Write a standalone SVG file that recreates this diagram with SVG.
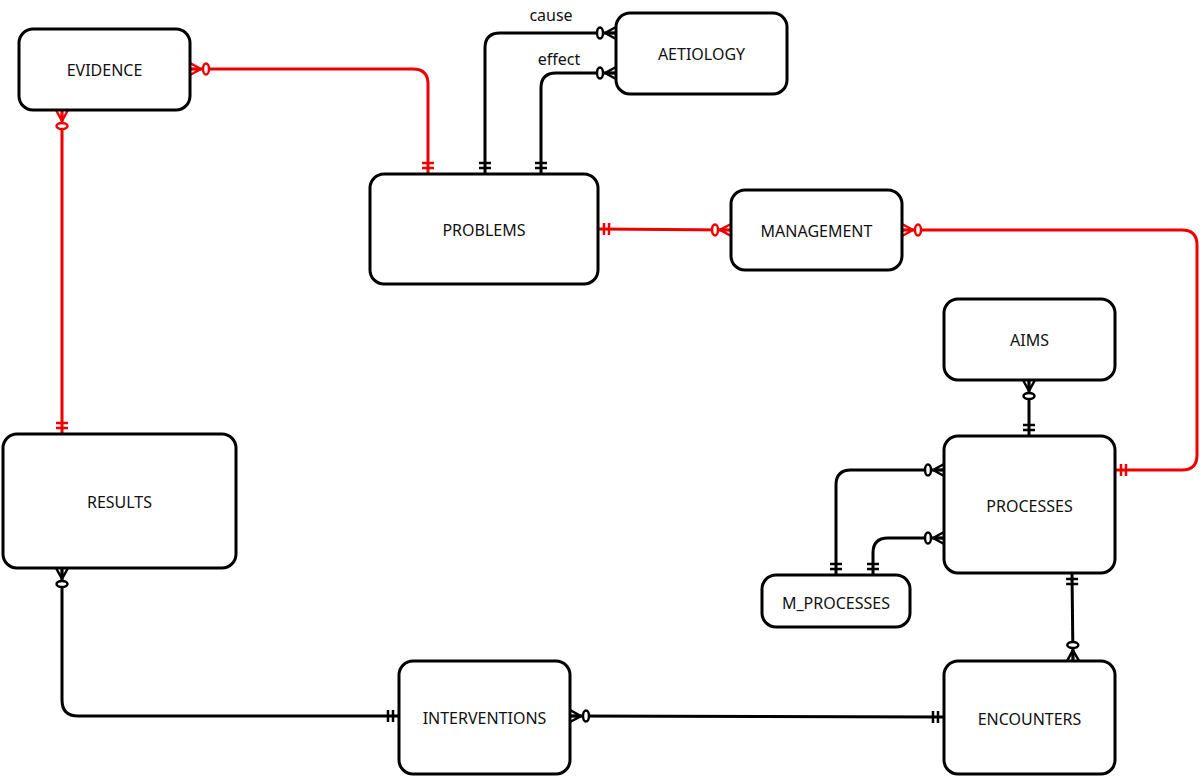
<svg xmlns="http://www.w3.org/2000/svg" width="1200" height="778" viewBox="0 0 1200 778">
<style>
.n{fill:#fff;stroke:#000;stroke-width:3}
.t{font-family:"Noto Sans","Open Sans",sans-serif;font-size:16px;text-anchor:middle;dominant-baseline:central;fill:#111}
.k{fill:none;stroke:#000;stroke-width:3}
.r{fill:none;stroke:#e00;stroke-width:3}
.k.m1{marker-start:url(#manyK);marker-end:url(#oneK)}
.k.m2{marker-start:url(#oneK);marker-end:url(#manyK)}
.r.m1{marker-start:url(#manyR);marker-end:url(#oneR)}
.r.m2{marker-start:url(#oneR);marker-end:url(#manyR)}
</style>
<defs>
<marker id="manyK" viewBox="-25 -10 30 20" refX="0" refY="0" markerWidth="30" markerHeight="20" markerUnits="userSpaceOnUse" orient="auto-start-reverse" overflow="visible"><path d="M-11,0 L0,-6 M-11,0 L0,6 M-11,0 H0" fill="none" stroke="#000" stroke-width="2.5"/><ellipse cx="-16" cy="0" rx="3" ry="5.5" fill="#fff" stroke="#000" stroke-width="2.5"/></marker>
<marker id="oneK" viewBox="-25 -10 30 20" refX="0" refY="0" markerWidth="30" markerHeight="20" markerUnits="userSpaceOnUse" orient="auto-start-reverse" overflow="visible"><path d="M-6,-6 V6 M-11,-6 V6" fill="none" stroke="#000" stroke-width="2.5"/></marker>
<marker id="manyR" viewBox="-25 -10 30 20" refX="0" refY="0" markerWidth="30" markerHeight="20" markerUnits="userSpaceOnUse" orient="auto-start-reverse" overflow="visible"><path d="M-11,0 L0,-6 M-11,0 L0,6 M-11,0 H0" fill="none" stroke="#e00" stroke-width="2.5"/><ellipse cx="-16" cy="0" rx="3" ry="5.5" fill="#fff" stroke="#e00" stroke-width="2.5"/></marker>
<marker id="oneR" viewBox="-25 -10 30 20" refX="0" refY="0" markerWidth="30" markerHeight="20" markerUnits="userSpaceOnUse" orient="auto-start-reverse" overflow="visible"><path d="M-6,-6 V6 M-11,-6 V6" fill="none" stroke="#e00" stroke-width="2.5"/></marker>
</defs>
<g id="connectors">
<path class="r m1" d="M190,69 H413 Q428,69 428,84 V174"/>
<path class="r m1" d="M62,110 V434"/>
<path class="k m2" d="M485,174 V48 Q485,33 500,33 H616"/>
<path class="k m2" d="M541,174 V88 Q541,73 556,73 H616"/>
<path class="r m2" d="M598,229 L731,230"/>
<path class="r m1" d="M902,230 H1182 Q1197,230 1197,245 V455 Q1197,470 1182,470 H1115"/>
<path class="k m1" d="M1029,380 V436"/>
<path class="k m2" d="M836,575 V485 Q836,470 851,470 H944"/>
<path class="k m2" d="M873,575 V553 Q873,538 888,538 H944"/>
<path class="k m2" d="M1072,573 L1073,661"/>
<path class="k m1" d="M62,568 V700 Q62,716 78,716 H399"/>
<path class="k m1" d="M570,716 L944,717"/>
<text class="t" x="551" y="15">cause</text>
<text class="t" x="559" y="59">effect</text>
</g>
<g id="evidence"><rect class="n" x="19" y="29" width="171" height="81" rx="14"/><text class="t" x="104.5" y="70">EVIDENCE</text></g>
<g id="aetiology"><rect class="n" x="616" y="13" width="171" height="81" rx="14"/><text class="t" x="701.5" y="54">AETIOLOGY</text></g>
<g id="problems"><rect class="n" x="370" y="174" width="228" height="110" rx="14"/><text class="t" x="484" y="230">PROBLEMS</text></g>
<g id="management"><rect class="n" x="731" y="190" width="171" height="80" rx="14"/><text class="t" x="816.5" y="231">MANAGEMENT</text></g>
<g id="aims"><rect class="n" x="944" y="299" width="171" height="81" rx="14"/><text class="t" x="1029.5" y="340">AIMS</text></g>
<g id="processes"><rect class="n" x="944" y="436" width="171" height="137" rx="14"/><text class="t" x="1029.5" y="506">PROCESSES</text></g>
<g id="m_processes"><rect class="n" x="762" y="575" width="148" height="52" rx="14"/><text class="t" x="836" y="603">M_PROCESSES</text></g>
<g id="results"><rect class="n" x="3" y="434" width="233" height="134" rx="14"/><text class="t" x="119.5" y="502">RESULTS</text></g>
<g id="interventions"><rect class="n" x="399" y="661" width="171" height="113" rx="14"/><text class="t" x="484.5" y="718">INTERVENTIONS</text></g>
<g id="encounters"><rect class="n" x="944" y="661" width="171" height="113" rx="14"/><text class="t" x="1029.5" y="719">ENCOUNTERS</text></g>
</svg>
